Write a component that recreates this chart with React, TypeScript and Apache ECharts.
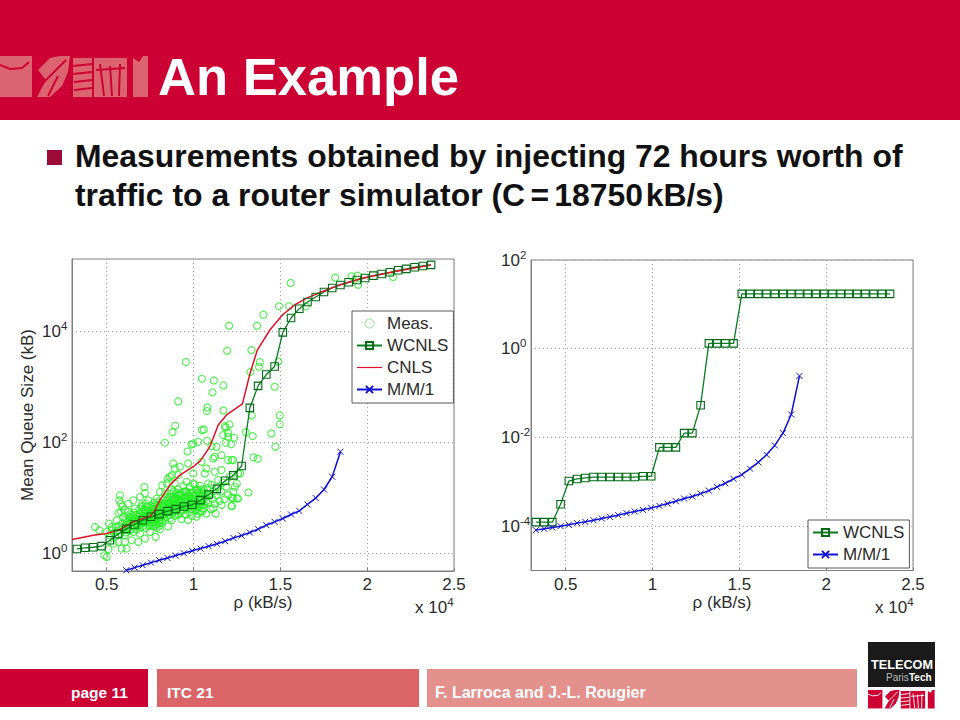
import React, { useEffect, useRef } from "react";
import * as echarts from "echarts";

const FONT = "'Liberation Sans', Arial, sans-serif";
const INK = "#2b2b2b";
const CRIMSON = "#cc0033";

const titleText = "An Example";
const bulletLines = [
  "Measurements obtained by injecting 72 hours worth of",
  "traffic to a router simulator (C\u200a\u200a=\u200a\u200a18750\u200akB/s)",
];
const footerTexts = ["page 11", "ITC 21", "F. Larroca and J.-L. Rougier"];

const xTickLabelsNote = "x 10";
const xAxisName = "\u03c1 (kB/s)";
const yAxisNameLeft = "Mean Queue Size (kB)";

const xTicks = [5000, 10000, 15000, 20000, 25000];
const yTicksLeft = [1, 100, 10000];
const yTicksRight = [1e-4, 1e-2, 1, 100];

const rhoGrid = [
  3280, 3754, 4229, 4703, 5178, 5652, 6126, 6601, 7075, 7550, 8024, 8498, 8973, 9447, 9922, 10396,
  10870, 11345, 11819, 12294, 12768, 13242, 13717, 14191, 14666, 15140, 15614, 16089, 16563, 17038,
  17512, 17986, 18461, 18935, 19410, 19884, 20358, 20833, 21307, 21782, 22256, 22730, 23205, 23680,
];

const wcnlsLeft = [
  1.21, 1.27, 1.3, 1.36, 1.74, 2.24, 2.79, 3.34, 4.0, 4.6, 5.14, 5.82, 6.33, 7.07, 7.58, 9.2, 11.6,
  14.7, 20.6, 25.7, 37.9, 423, 1057, 1694, 2362, 9730, 17660, 26050, 34360, 42360, 52120, 61520,
  69660, 77980, 85900, 93300, 102800, 110200, 118000, 128300, 135800, 145500, 153700, 160300,
];

const cnlsRho = [
  3000, 4234, 5000, 5766, 6533, 7490, 7720, 8066, 8640, 9215, 9980, 10400, 10940, 11420, 11900,
  12107, 12816, 13256, 13678, 14406, 15134, 15843, 16609, 17472, 18430, 19770, 21690, 23660,
];
const cnlsQueue = [
  1.79, 2.14, 2.3, 2.71, 3.73, 4.73, 5.66, 9.2, 17.2, 26, 36.8, 47.3, 84.7, 208, 316, 353, 500, 1791,
  4730, 10870, 20280, 30760, 41690, 53580, 70630, 93300, 123000, 160300,
];

// the left M/M/1 curve only enters the frame at the seventh grid point
const mm1LeftRho = rhoGrid.slice(6, 33);
const mm1Left = [
  0.5, 0.558, 0.615, 0.687, 0.758, 0.835, 0.92, 1.01, 1.12, 1.23, 1.36, 1.5, 1.67, 1.92, 2.11, 2.4,
  2.75, 3.25, 3.73, 4.29, 5.07, 5.9, 7.69, 10, 14.3, 24.3, 68.7,
];

const wcnlsRight = [
  1.23e-4, 1.23e-4, 1.23e-4, 3.12e-4, 1.04e-3, 1.16e-3, 1.22e-3, 1.28e-3, 1.28e-3, 1.28e-3, 1.28e-3,
  1.28e-3, 1.28e-3, 1.33e-3, 1.33e-3, 5.96e-3, 5.96e-3, 5.96e-3, 0.0125, 0.0125, 0.0533, 1.318, 1.318,
  1.318, 1.318, 17.2, 17.2, 17.2, 17.2, 17.2, 17.2, 17.2, 17.2, 17.2, 17.2, 17.2, 17.2, 17.2, 17.2,
  17.2, 17.2, 17.2, 17.2, 17.2,
];

const mm1RightRho = rhoGrid.slice(0, 33);
const mm1Right = [
  8.13e-5, 8.71e-5, 9.33e-5, 1e-4, 1.07e-4, 1.17e-4, 1.25e-4, 1.36e-4, 1.49e-4, 1.62e-4, 1.77e-4,
  1.96e-4, 2.14e-4, 2.33e-4, 2.58e-4, 2.86e-4, 3.23e-4, 3.65e-4, 4.19e-4, 4.65e-4, 5.42e-4, 6.33e-4,
  7.66e-4, 9.25e-4, 1.16e-3, 1.45e-3, 1.98e-3, 2.74e-3, 4.07e-3, 6.61e-3, 0.0125, 0.0329, 0.243,
];

const measurementsOutliers = [
  [14022, 4.308], [12049, 4.109], [13658, 4.109], [11934, 3.658], [13333, 3.67], [9558, 3.453],
  [13812, 3.453], [13773, 3.369], [13275, 3.273], [10478, 3.152], [11167, 3.122], [11723, 3.032],
  [14674, 3.008], [11091, 2.906], [9117, 2.743], [10803, 2.635], [10765, 2.569], [11723, 2.581],
  [13352, 2.491], [14961, 2.491], [14961, 2.334], [8945, 2.304], [8792, 2.19], [10478, 2.226],
  [10593, 2.238], [11800, 2.298], [12068, 2.328], [11857, 2.274], [11991, 2.178], [11704, 2.136],
  [13007, 2.19], [14482, 2.166], [12336, 2.088], [13409, 2.118], [11991, 2.105], [8351, 1.997],
  [9884, 1.967], [10267, 2.015], [10784, 2.033], [9980, 1.985], [11857, 1.997], [12164, 1.973],
  [14712, 1.925], [11321, 1.925], [11034, 1.937], [18161, 4.976], [15594, 4.88], [14923, 4.458],
  [15498, 4.458], [19100, 5.0], [19445, 5.012], [19483, 4.849], [21495, 4.988], [16475, 4.458],
  [14885, 3.464], [13448, 1.735], [13697, 1.711], [13161, 1.102], [12490, 0.994], [12203, 0.855],
  [12203, 1.012], [12298, 1.114], [12490, 1.265], [12682, 1.446], [12203, 1.687],
];
const measurementsLow = [
  [5765, 1.05], [5727, 0.96], [5822, 0.9], [5899, 0.85], [5669, 0.73], [5822, 0.75], [6052, 0.79],
  [6244, 0.75], [6627, 0.81], [6914, 1.02], [7164, 1.2], [7202, 1.09], [7393, 0.96], [7681, 0.84],
  [7873, 0.99], [8064, 1.11], [8198, 1.23], [8505, 1.35], [8735, 1.41], [8351, 1.08], [8543, 0.9],
  [7010, 0.87], [7298, 0.85], [6244, 0.9], [6531, 0.96], [5133, 0.54], [5286, 0.48], [5000, 0.39],
  [4330, 0.48], [4570, 0.42], [5956, 0.66], [5573, 0.6], [6531, 0.66], [6914, 0.69], [7585, 0.72],
  [8064, 0.75], [8543, 0.75], [5000, -0.06], [4866, -0.03], [5094, 0.08], [5861, 0.09], [6148, 0.09],
  [5382, 0.18], [5669, 0.21], [6052, 0.21], [6435, 0.24], [6819, 0.21], [7202, 0.27], [7815, 0.3],
  [7489, 0.39], [8064, 0.44], [8543, 0.49], [6914, 0.36], [6531, 0.39], [6052, 0.33], [5477, 0.3],
  [5190, 0.33], [5300, 0.42], [5450, 0.38], [5520, 0.47], [5640, 0.41], [5700, 0.5], [5790, 0.37],
  [5860, 0.46], [5920, 0.54], [5980, 0.42], [6030, 0.5], [6100, 0.38], [6150, 0.58], [6200, 0.46],
  [6260, 0.53], [6310, 0.41], [6370, 0.62], [6400, 0.5], [6460, 0.44], [6510, 0.57], [6570, 0.49],
  [6620, 0.64], [6680, 0.53], [6730, 0.43], [6790, 0.6], [6840, 0.51], [6890, 0.56], [6950, 0.47],
  [7000, 0.65], [7050, 0.55], [7110, 0.5], [7160, 0.62], [7210, 0.57], [7260, 0.46], [7320, 0.68],
  [7370, 0.59], [7420, 0.52], [7470, 0.64], [7530, 0.56], [7580, 0.69], [7640, 0.5], [7690, 0.62],
  [7740, 0.57], [7800, 0.7], [7850, 0.63], [7900, 0.53], [7950, 0.68], [8010, 0.6], [8060, 0.55],
  [8120, 0.72], [8170, 0.66], [7060, 0.62], [7140, 0.58], [7230, 0.66], [7300, 0.56], [7380, 0.63],
  [7460, 0.7], [7540, 0.62], [7620, 0.72], [7700, 0.66], [7780, 0.62], [7860, 0.76], [7940, 0.72],
  [8020, 0.8], [8100, 0.66], [8180, 0.78], [8240, 0.7], [8280, 0.9], [8220, 0.88], [8140, 0.85],
  [8080, 0.92], [8000, 0.87], [7900, 0.82], [7830, 0.88], [7750, 0.8], [7660, 0.78], [7500, 0.78],
  [7350, 0.76], [7200, 0.74], [7050, 0.75], [6900, 0.72],
  [6080, 0.62], [6180, 0.52], [6290, 0.66], [6340, 0.56], [6430, 0.7], [6490, 0.6], [6560, 0.74],
  [6640, 0.58], [6700, 0.7], [6760, 0.5], [6830, 0.66], [6880, 0.8], [6970, 0.6], [7030, 0.84],
  [7090, 0.68], [7150, 0.8], [7240, 0.9], [7310, 0.72], [7400, 0.84], [7450, 0.5], [7560, 0.86],
  [7610, 0.56], [7720, 0.92], [7770, 0.5], [7880, 0.46], [7970, 0.94], [8040, 0.5], [8130, 0.6],
  [8200, 0.56], [8260, 0.82],
];
const measurementsHigh = [
  [9653, 1.84], [8829, 1.625], [9212, 1.565], [8925, 1.535], [9691, 1.625], [11224, 1.745],
  [11607, 1.775], [11990, 1.685], [12278, 1.685], [10745, 1.535], [10458, 1.655], [11128, 1.715],
  [8637, 1.385], [9116, 1.415], [9595, 1.295], [9979, 1.445], [10649, 1.445], [11224, 1.475],
  [11607, 1.505], [12086, 1.385], [12565, 1.445], [10841, 1.265], [11416, 1.325], [12374, 1.205],
  [12278, 0.995], [12565, 0.995], [12182, 0.863], [11607, 0.875], [11128, 0.815], [10553, 0.815],
  [10170, 0.665], [9691, 0.605], [9116, 0.695], [8637, 0.635], [10745, 1.085], [10266, 1.145],
  [9979, 1.265], [9500, 1.115], [9116, 1.055], [8733, 1.145], [8446, 1.265], [8925, 1.265],
  [11894, 1.205], [11990, 1.055], [8300, 0.62], [8340, 0.85], [8380, 0.72], [8420, 0.95], [8460, 0.66],
  [8500, 1.02], [8540, 0.78], [8580, 0.9], [8620, 0.7], [8660, 1.08], [8700, 0.83], [8740, 0.6],
  [8780, 0.97], [8820, 0.75], [8860, 1.12], [8900, 0.88], [8940, 0.68], [8980, 1.02], [9020, 0.8],
  [9060, 0.92], [9100, 1.16], [9140, 0.72], [9180, 0.98], [9220, 0.85], [9260, 1.08], [9300, 0.62],
  [9340, 0.93], [9380, 0.78], [9420, 1.22], [9460, 1.02], [9500, 0.87], [9540, 0.7], [9580, 1.12],
  [9620, 0.96], [9660, 0.82], [9700, 1.05], [9740, 0.74], [9780, 1.2], [9820, 0.9], [9860, 1.0],
  [9900, 0.68], [9940, 1.1], [9980, 0.85], [10020, 0.95], [10060, 1.25], [10100, 0.78], [10140, 1.05],
  [10180, 0.92], [10220, 1.15], [10260, 0.72], [10300, 1.0], [10340, 0.85], [10380, 1.22], [10420, 0.95],
  [10460, 1.08], [10500, 0.76], [10540, 0.97], [10580, 1.15], [10620, 0.88], [10680, 1.02], [10740, 0.72],
  [10800, 1.18], [10860, 0.92], [10920, 1.06], [10980, 0.8], [11040, 1.24], [11100, 0.98], [11160, 1.12],
  [11220, 0.9], [11280, 0.72], [11340, 1.05], [11420, 1.2], [11500, 0.95], [11580, 1.12], [11680, 1.28],
  [11780, 0.98], [8450, 0.82], [8520, 0.92], [8600, 0.85], [8680, 0.95], [8760, 0.88], [8840, 0.82],
  [8920, 1.0], [8980, 0.9], [9040, 0.97], [9120, 0.88], [9200, 0.93], [9280, 0.98], [9360, 0.86],
  [9440, 0.94], [9520, 1.0], [9600, 0.88], [9680, 0.95], [9760, 1.03], [9840, 0.94], [9920, 0.9],
  [10000, 1.05], [10080, 0.96], [10160, 0.88], [10240, 0.98], [10320, 1.08], [10400, 0.9],
  [8560, 1.0], [8640, 0.78], [8720, 1.02], [8800, 0.9], [8880, 0.98], [8960, 0.76], [9000, 1.1],
  [9080, 0.82], [9160, 1.08], [9240, 0.76], [9320, 1.04], [9400, 0.9], [9480, 1.12], [9560, 0.8],
  [9640, 1.08], [9720, 0.86], [9800, 1.1], [9880, 0.8], [9960, 0.98], [10040, 0.84], [10120, 1.14],
  [10200, 0.8], [10280, 1.1], [10360, 0.76], [10440, 1.16], [10520, 0.88], [10640, 1.1], [10720, 0.94],
];

const pairs = (xs: number[], ys: number[]) => xs.map((x, i) => [x, ys[i]]);

const richLabels = {
  b: { fontSize: 17, fontFamily: FONT, color: INK },
  s: { fontSize: 11.5, fontFamily: FONT, color: INK, padding: [0, 0, 11, 0] },
};

function xAxisOpt(gridIndex: number) {
  return {
    type: "value",
    gridIndex,
    min: 3000,
    max: 25000,
    name: xAxisName,
    nameLocation: "middle",
    nameGap: 23,
    nameTextStyle: { fontFamily: FONT, fontSize: 17, color: INK },
    axisLine: { show: true, lineStyle: { color: "#7f7f7f", width: 1 } },
    axisTick: { show: true, inside: true, length: 3, customValues: xTicks, lineStyle: { color: "#7f7f7f" } },
    axisLabel: {
      fontFamily: FONT,
      fontSize: 17,
      color: INK,
      margin: 5,
      customValues: xTicks,
      formatter: (v: number) => String(v / 10000),
    },
    splitLine: { show: true, lineStyle: { color: "#a5a5a5", type: [1, 3], width: 1 } },
  };
}

function yAxisOpt(gridIndex: number, min: number, max: number, ticks: number[], name: string) {
  return {
    type: "log",
    logBase: 10,
    gridIndex,
    min,
    max,
    name,
    nameLocation: "middle",
    nameGap: 36,
    nameTextStyle: { fontFamily: FONT, fontSize: 17, color: INK },
    axisLine: { show: true, lineStyle: { color: "#7f7f7f", width: 1 } },
    axisTick: { show: false, customValues: ticks },
    axisLabel: {
      align: "left",
      margin: 30,
      rich: richLabels,
      customValues: ticks,
      formatter: (v: number) => `{b|10}{s|${Math.round(Math.log10(v))}}`,
    },
    splitLine: { show: true, lineStyle: { color: "#a5a5a5", type: [1, 3], width: 1 } },
  };
}

const squareStyle = { color: "#ffffff00", borderColor: "#006a14", borderWidth: 1.1 };
const crossPath = "path://M0 0L10 10M10 0L0 10";
const thinBar = "path://M0 0L0 0M25 9L25 9M0 3.9H25V5.1H0Z";

function wcnlsSeries(xAxisIndex: number, data: number[][]) {
  return {
    name: "WCNLS",
    type: "line",
    xAxisIndex,
    yAxisIndex: xAxisIndex,
    data,
    symbol: "rect",
    symbolSize: 7.5,
    showSymbol: true,
    showAllSymbol: true,
    lineStyle: { color: "#0a7d22", width: 1.3 },
    itemStyle: squareStyle,
    z: 3,
  };
}
function mm1Series(xAxisIndex: number, data: number[][]) {
  return {
    name: "M/M/1",
    type: "line",
    xAxisIndex,
    yAxisIndex: xAxisIndex,
    data,
    symbol: crossPath,
    symbolSize: 6,
    showSymbol: true,
    showAllSymbol: true,
    lineStyle: { color: "#1010d8", width: 1.5 },
    itemStyle: { color: "#1010d8", borderColor: "#1010d8", borderWidth: 1 },
    z: 3,
  };
}

function legendOpt(names: any[], left: number, top: number) {
  return {
    data: names,
    orient: "vertical",
    left,
    top,
    itemWidth: 25,
    itemHeight: 9,
    itemGap: 5,
    padding: [4, 5, 5, 4],
    backgroundColor: "#ffffff",
    borderColor: "#595959",
    borderWidth: 1,
    borderRadius: 0,
    selectedMode: false,
    textStyle: { fontFamily: FONT, fontSize: 17, color: INK },
  };
}

// The school crest: a rough silhouette drawn as blocks cut by background strokes
function crest(x: number, y: number, sx: number, sy: number, fg: string, bg: string) {
  const block = (l: number, t: number, w: number, h: number) => ({
    type: "rect",
    shape: { x: l, y: t, width: w, height: h },
    style: { fill: fg },
  });
  const cut = (pts: number[][]) => ({
    type: "polyline",
    shape: { points: pts },
    style: { stroke: bg, lineWidth: 2, fill: "none" },
  });
  return {
    type: "group",
    x,
    y,
    scaleX: sx,
    scaleY: sy,
    silent: true,
    children: [
      block(0, 0, 32, 41),
      cut([[0, 9], [10, 13], [22, 12], [29, 6]]),
      { type: "polygon", shape: { points: [[37, 41], [46, 24], [38, 14], [50, 2], [60, 0], [70, 0], [68, 16], [62, 30], [50, 41]] }, style: { fill: fg } },
      cut([[42, 28], [56, 14], [66, 4]]),
      cut([[48, 40], [58, 20]]),
      block(73, 2, 19, 39),
      cut([[73, 10], [92, 8]]),
      cut([[73, 18], [92, 16]]),
      cut([[74, 26], [92, 24]]),
      cut([[74, 34], [92, 32]]),
      block(94, 2, 33, 39),
      cut([[100, 8], [104, 40]]),
      cut([[110, 10], [112, 40]]),
      cut([[120, 8], [119, 40]]),
      cut([[96, 14], [125, 12]]),
      { type: "polygon", shape: { points: [[133, 41], [133, 2], [139, 6], [143, 0], [148, 0], [148, 41]] }, style: { fill: fg } },
    ],
  };
}

function headerGraphics() {
  const rect = (x: number, y: number, w: number, h: number, fill: string) => ({
    type: "rect",
    shape: { x, y, width: w, height: h },
    style: { fill },
    silent: true,
  });
  const text = (x: number, y: number, t: string, size: number, fill: string, extra: any = {}) => ({
    type: "text",
    x,
    y,
    silent: true,
    style: { text: t, fontFamily: FONT, fontSize: size, fontWeight: "bold", fill, textVerticalAlign: "middle", ...extra },
  });
  const exponent = (x: number, y: number) => ({
    type: "text",
    x,
    y,
    silent: true,
    style: {
      text: `{b|${xTickLabelsNote}}{s|4}`,
      textVerticalAlign: "middle",
      rich: {
        b: { fontSize: 17, fontFamily: FONT, fill: INK },
        s: { fontSize: 11.5, fontFamily: FONT, fill: INK, padding: [0, 0, 11, 0] },
      },
    },
  });
  return [
    rect(0, 0, 960, 120, CRIMSON),
    crest(0, 56, 1, 1, "#dc6470", CRIMSON),
    text(158, 76, titleText, 52.6, "#ffffff"),
    rect(47, 150, 15, 15, "#9c0a3a"),
    text(75, 156, bulletLines[0], 31.9, "#111111"),
    text(75, 195, bulletLines[1], 31.9, "#111111"),
    exponent(415, 607),
    exponent(875, 607),
    rect(0, 669, 148, 38, CRIMSON),
    rect(157, 669, 262, 38, "#da6468"),
    rect(427, 669, 430, 38, "#e4908c"),
    text(71, 692, footerTexts[0], 15.5, "#ffffff"),
    text(167, 692, footerTexts[1], 15.5, "#ffffff"),
    text(435, 692, footerTexts[2], 16, "#ffffff"),
    rect(868, 642, 67, 45, "#1a1a1a"),
    text(871, 665, "TELECOM", 12.7, "#ffffff"),
    text(886, 677, "Paris", 10, "#bdbdbd", { fontWeight: "normal" }),
    text(909, 677, "Tech", 10, "#ffffff"),
    crest(868, 690, 0.45, 0.45, CRIMSON, "#ffffff"),
  ];
}

export default function App() {
  const ref = useRef<HTMLDivElement>(null);
  useEffect(() => {
    if (!ref.current) return;
    const chart = echarts.init(ref.current, undefined, { renderer: "svg" });
    const measurements = [...measurementsOutliers, ...measurementsLow, ...measurementsHigh].map(
      ([rho, lg]) => [rho, Math.pow(10, lg)]
    );
    chart.setOption({
      animation: false,
      backgroundColor: "#ffffff",
      textStyle: { fontFamily: FONT },
      grid: [
        { left: 72, top: 259, width: 382, height: 312, show: true, borderColor: "#7f7f7f", borderWidth: 1, backgroundColor: "#fff", containLabel: false },
        { left: 531, top: 260, width: 382, height: 310.5, show: true, borderColor: "#7f7f7f", borderWidth: 1, backgroundColor: "#fff", containLabel: false },
      ],
      xAxis: [xAxisOpt(0), xAxisOpt(1)],
      yAxis: [yAxisOpt(0, 0.485, 205000, yTicksLeft, yAxisNameLeft), yAxisOpt(1, 1e-5, 100, yTicksRight, "")],
      legend: [
        legendOpt(
          [
            { name: "Meas.", icon: "circle", itemStyle: { color: "#ffffff", borderColor: "#66e066", borderWidth: 1 } },
            "WCNLS",
            { name: "CNLS", icon: thinBar, itemStyle: { color: "#e0102a", borderWidth: 0 } },
            "M/M/1",
          ],
          352,
          311
        ),
        legendOpt(["WCNLS", "M/M/1"], 808, 520),
      ],
      series: [
        {
          name: "Meas.",
          type: "scatter",
          xAxisIndex: 0,
          yAxisIndex: 0,
          data: measurements,
          symbol: "circle",
          symbolSize: 7,
          itemStyle: { color: "#ffffff00", borderColor: "#22ee22", borderWidth: 1.1 },
          z: 2,
        },
        wcnlsSeries(0, pairs(rhoGrid, wcnlsLeft)),
        {
          name: "CNLS",
          type: "line",
          xAxisIndex: 0,
          yAxisIndex: 0,
          data: pairs(cnlsRho, cnlsQueue),
          symbol: "none",
          lineStyle: { color: "#e0102a", width: 1.5 },
          itemStyle: { color: "#e0102a" },
          z: 3,
        },
        mm1Series(0, pairs(mm1LeftRho, mm1Left)),
        wcnlsSeries(1, pairs(rhoGrid, wcnlsRight)),
        mm1Series(1, pairs(mm1RightRho, mm1Right)),
      ],
      graphic: { elements: headerGraphics() },
    });
    return () => chart.dispose();
  }, []);
  return <div ref={ref} style={{ position: "absolute", left: 0, top: 0, width: 960, height: 720 }} />;
}
